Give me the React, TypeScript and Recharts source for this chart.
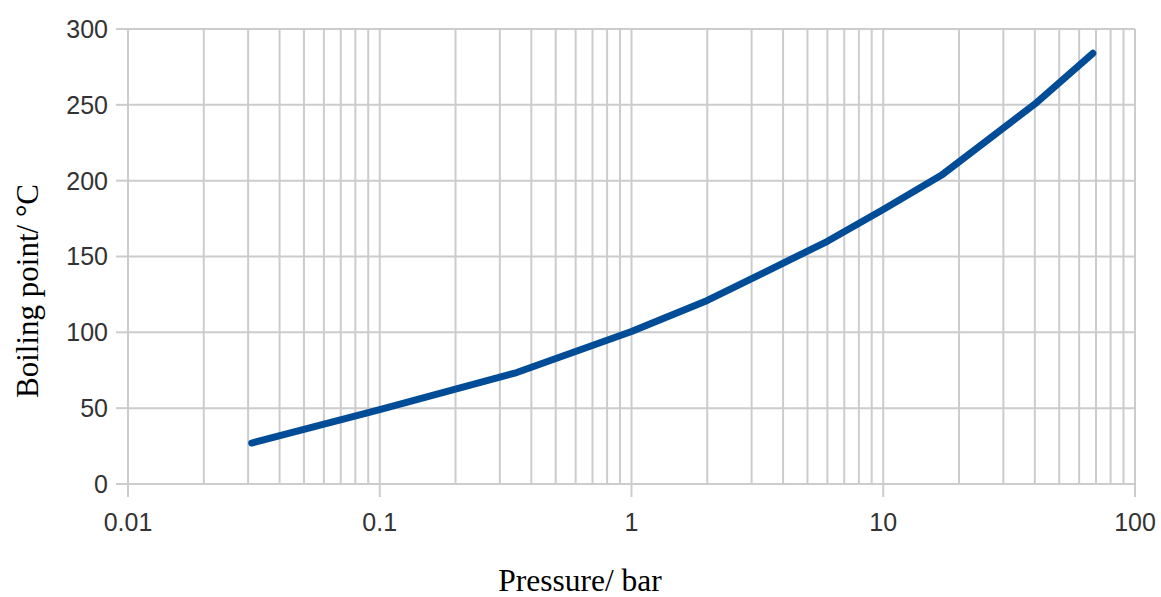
import React from 'react';
import { LineChart, Line, XAxis, YAxis, CartesianGrid } from 'recharts';

const pressure = [0.031, 0.1, 0.35, 1, 2, 6, 10, 17, 40, 68];
const boilingPoint = [27, 49, 73.5, 100.5, 121, 160, 181, 203.5, 250.5, 284];

const decadeTicks = [0.01, 0.1, 1, 10, 100];
const decadeLabels = ['0.01', '0.1', '1', '10', '100'];
const minorMultipliers = [1, 2, 3, 4, 5, 6, 7, 8, 9];
const yTicks = [0, 50, 100, 150, 200, 250, 300];

const xTitle = 'Pressure/ bar';
const yTitle = 'Boiling point/ °C';

const data = pressure.map((p, i) => ({ p, t: boilingPoint[i] }));

const allXTicks: number[] = [];
decadeTicks.slice(0, -1).forEach((d) => {
  minorMultipliers.forEach((m) => allXTicks.push(parseFloat((d * m).toPrecision(6))));
});
allXTicks.push(100);

const GRID = '#cccccc';
const TICK_FONT = '"Liberation Sans", Arial, sans-serif';
const TITLE_FONT = '"Liberation Serif", "Times New Roman", serif';
const X_TICK_SIZE = 13;
const X_TICK_MARGIN = 25;

const XTick = (props: any) => {
  const { x, y, payload } = props;
  const idx = decadeTicks.findIndex((d) => Math.abs(d - payload.value) / d < 1e-6);
  if (idx < 0) return <g />;
  const axisY = y - X_TICK_SIZE - X_TICK_MARGIN;
  return (
    <g>
      <line x1={x} x2={x} y1={axisY} y2={axisY + X_TICK_SIZE} stroke={GRID} strokeWidth={2} />
      <text x={x} y={y} dy="0.36em" textAnchor="middle" fill="#333" fontSize={25} fontFamily={TICK_FONT}>
        {decadeLabels[idx]}
      </text>
    </g>
  );
};

export default function App() {
  return (
    <div style={{ position: 'absolute', left: 0, top: 0, width: 1161, height: 597, background: '#fff' }}>
      <LineChart width={1161} height={597} data={data} margin={{ top: 29, right: 26, left: 0, bottom: 0 }}>
        <CartesianGrid stroke={GRID} strokeWidth={2} />
        <XAxis
          dataKey="p"
          type="number"
          scale="log"
          domain={[0.01, 100]}
          ticks={allXTicks}
          interval={0}
          allowDataOverflow
          height={113}
          tickLine={false}
          axisLine={{ stroke: GRID, strokeWidth: 2 }}
          tickSize={X_TICK_SIZE}
          tickMargin={X_TICK_MARGIN}
          tick={<XTick />}
        />
        <YAxis
          type="number"
          domain={[0, 300]}
          ticks={yTicks}
          interval={0}
          width={128}
          axisLine={{ stroke: GRID, strokeWidth: 2 }}
          tickLine={{ stroke: GRID, strokeWidth: 2 }}
          tickSize={12}
          tickMargin={8}
          tick={{ fill: '#333', fontSize: 25, fontFamily: TICK_FONT }}
        />
        <Line
          type="linear"
          dataKey="t"
          stroke="#004c96"
          strokeWidth={7}
          strokeLinecap="round"
          strokeLinejoin="round"
          dot={false}
          isAnimationActive={false}
        />
      </LineChart>
      <svg
        width={1161}
        height={597}
        style={{ position: 'absolute', left: 0, top: 0, pointerEvents: 'none' }}
      >
        <text x={580} y={591} textAnchor="middle" fontSize={31.5} fill="#000" fontFamily={TITLE_FONT}>
          {xTitle}
        </text>
        <text
          x={0}
          y={0}
          transform="translate(38, 291) rotate(-90)"
          textAnchor="middle"
          fontSize={31}
          fill="#000"
          fontFamily={TITLE_FONT}
        >
          {yTitle}
        </text>
      </svg>
    </div>
  );
}
